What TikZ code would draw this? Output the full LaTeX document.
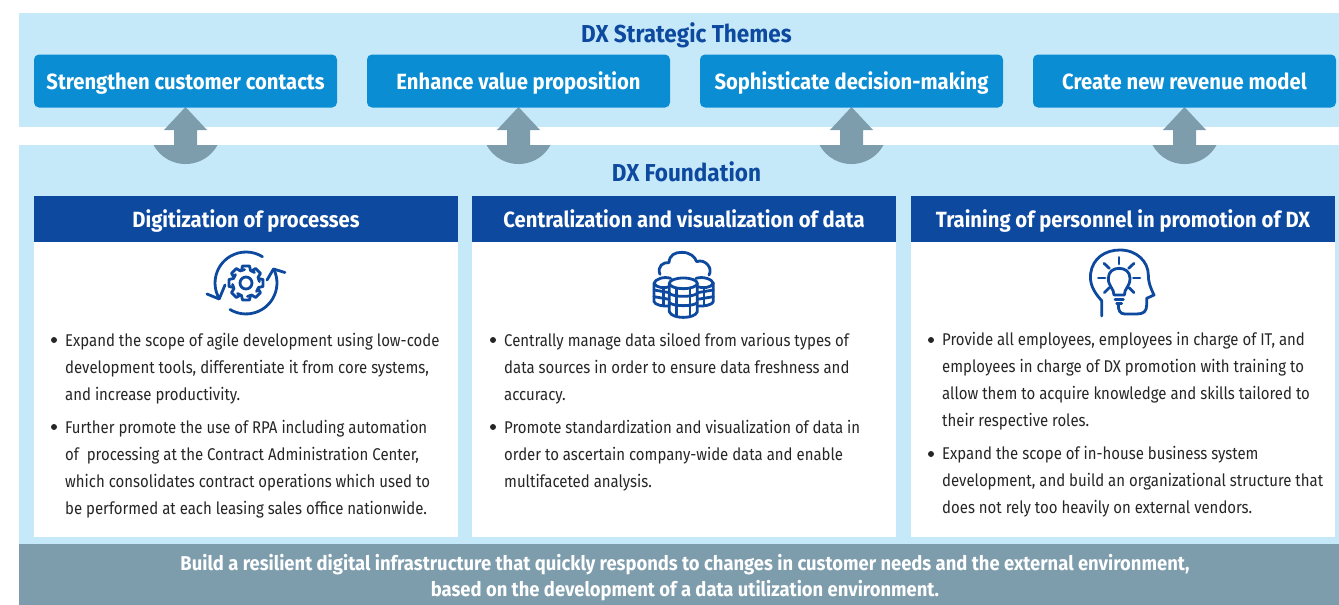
\documentclass[tikz,border=0pt]{standalone}
\usepackage{fontspec}
\setmainfont{Fira Sans}[FakeStretch=0.88,BoldFeatures={FakeStretch=0.92}]
\definecolor{bandblue}{HTML}{C6E9FA}
\definecolor{themeblue}{HTML}{0A8DD3}
\definecolor{headblue}{HTML}{0D4A9F}
\definecolor{slategrey}{HTML}{7D9CAC}
\usetikzlibrary{calc}
\tikzset{
  themebox/.style={fill=themeblue,rounded corners=5pt,minimum width=303pt,minimum height=53pt,inner sep=0pt,text height=18pt,text depth=2pt,text=white,font=\fontsize{22}{24}\selectfont\bfseries},
  headbox/.style={fill=headblue,minimum width=424pt,minimum height=46pt,inner sep=0pt,text height=18pt,text depth=2pt,text=white,font=\fontsize{22}{24}\selectfont\bfseries},
  bandtitle/.style={text=headblue,inner sep=0pt,text height=19pt,text depth=2pt,font=\fontsize{24.5}{26}\selectfont\bfseries},
  bodytext/.style={anchor=west,align=left,inner sep=0pt,text=black!85,font=\fontsize{17}{27}\selectfont},
  bulletmark/.style={circle,fill=black!85,minimum size=6pt,inner sep=0pt},
  iconline/.style={draw=headblue,line width=2.8pt,line cap=round,line join=round},
}
\begin{document}
\begin{tikzpicture}[x=1pt,y=-1pt]
    \useasboundingbox (0,0) rectangle (1339,605);

    % bands
    \fill [bandblue] (19,13) rectangle (1339,127);
    \fill [bandblue] (19,145) rectangle (1339,545);
    \fill [slategrey] (19,544) rectangle (1339,605);

    \node [bandtitle] (strategic) at (686.5,34) {DX Strategic Themes};
    \node [bandtitle] (foundation) at (686.5,173) {DX Foundation};

    \coordinate (T1) at (185.5,81);
    \coordinate (T2) at (518.5,81);
    \coordinate (T3) at (851.5,81);
    \coordinate (T4) at (1184.5,81);

    % arrows go under the boxes
    \foreach \y in {T1,T2,T3,T4}
    {
        \fill [slategrey, shift={(\y)}] (0,26) -- (21.5,49) -- (11.5,49) -- (11.5,64) -- (32,64)
            arc [start angle=28.5,end angle=151.5,radius=36.4] -- (-11.5,64) -- (-11.5,49) -- (-21.5,49) -- cycle;
    }

    \node [themebox] (theme1) at (T1) {Strengthen customer contacts};
    \node [themebox] (theme2) at (T2) {Enhance value proposition};
    \node [themebox] (theme3) at (T3) {Sophisticate decision-making};
    \node [themebox] (theme4) at (T4) {Create new revenue model};

    % panels
    \fill [white] (34,242) rectangle (458,537);
    \fill [white] (472,242) rectangle (896,537);
    \fill [white] (911,242) rectangle (1335,537);

    \node [headbox] (process) at (246,219) {Digitization of processes};
    \node [headbox] (data) at (684,219) {Centralization and visualization of data};
    \node [headbox] (people) at (1123,219) {Training of personnel in promotion of DX};

    % first panel
    \node [bodytext] (p1a) at (65,368.5) {Expand the scope of agile development using low-code\\development tools, differentiate it from core systems,\\and increase productivity.};
    \node [bodytext] (p1b) at (65,469) {Further promote the use of RPA including automation\\of \ processing at the Contract Administration Center,\\which consolidates contract operations which used to\\be performed at each leasing sales office nationwide.};
    \node [bulletmark] (b1a) at (54,340) {};
    \node [bulletmark] (b1b) at (54,427) {};

    % second panel
    \node [bodytext] (p2a) at (504,368.5) {Centrally manage data siloed from various types of\\data sources in order to ensure data freshness and\\accuracy.};
    \node [bodytext] (p2b) at (504,455.5) {Promote standardization and visualization of data in\\order to ascertain company-wide data and enable\\multifaceted analysis.};
    \node [bulletmark] (b2a) at (493,340) {};
    \node [bulletmark] (b2b) at (493,427) {};

    % third panel
    \node [bodytext] (p3a) at (942,381.5) {Provide all employees, employees in charge of IT, and\\employees in charge of DX promotion with training to\\allow them to acquire knowledge and skills tailored to\\their respective roles.};
    \node [bodytext] (p3b) at (942,482) {Expand the scope of in-house business system\\development, and build an organizational structure that\\does not rely too heavily on external vendors.};
    \node [bulletmark] (b3a) at (931,340) {};
    \node [bulletmark] (b3b) at (931,454) {};

    \node [align=center,inner sep=0pt,text=white,font=\fontsize{20}{26}\selectfont\bfseries] (resilient) at (685,578)
        {Build a resilient digital infrastructure that quickly responds to changes in customer needs and the external environment,\\based on the development of a data utilization environment.};

    % gear icon
    \begin{scope}[shift={(246,283)}]
        \draw [iconline] (-26.8,15.5) arc [start angle=150,end angle=302,radius=31];
        \draw [iconline] (-39,11) -- (-26.8,16) -- (-21,2);
        \draw [iconline] (-16,26.5) arc [start angle=121,end angle=-25,radius=31];
        \draw [iconline] (21,-3) -- (27.5,-14) -- (39,-10.5);
        \draw [iconline] (0,0) circle [radius=6];
        \foreach \a in {0,45,...,315}
            \draw [iconline, rotate=\a] (-4.5,-12.5) -- (-3.5,-17) -- (3.5,-17) -- (4.5,-12.5) -- (8.5,-10.5);
    \end{scope}

    % cloud and database icon
    \begin{scope}[shift={(630,240)},x=0.3333pt,y=-0.3333pt]
        \draw [iconline] (90,103) .. controls (80,80) and (100,65) .. (117,68)
            .. controls (118,45) and (135,37) .. (155,37) .. controls (180,37) and (195,50) .. (200,65)
            .. controls (225,55) and (250,85) .. (237,105);
        \draw [iconline] (122,115) .. controls (100,108) and (75,118) .. (72,130) -- (72,185) .. controls (75,195) and (100,200) .. (118,198);
        \draw [iconline] (72,130) .. controls (80,145) and (105,145) .. (118,140);
        \draw [iconline] (72,150) -- (118,158);
        \draw [iconline] (72,170) -- (118,178);
        \draw [iconline] (100,145) -- (100,195);
        \draw [iconline] (198,115) .. controls (220,108) and (247,118) .. (250,130) -- (250,185) .. controls (247,195) and (220,200) .. (202,198);
        \draw [iconline] (250,130) .. controls (242,145) and (217,145) .. (202,140);
        \draw [iconline] (250,150) -- (202,158);
        \draw [iconline] (250,170) -- (202,178);
        \draw [iconline] (222,145) -- (222,195);
        \draw [iconline] (160,130) ellipse [x radius=42,y radius=16];
        \draw [iconline] (118,130) -- (118,215) .. controls (125,238) and (195,238) .. (202,215) -- (202,130);
        \draw [iconline] (118,160) .. controls (130,172) and (190,172) .. (202,160);
        \draw [iconline] (118,188) .. controls (130,200) and (190,200) .. (202,188);
        \draw [iconline] (140,145) -- (140,226);
        \draw [iconline] (180,145) -- (180,226);
    \end{scope}

    % head with light bulb icon
    \begin{scope}[shift={(1070,240)},x=0.3333pt,y=-0.3333pt]
        \draw [iconline] (95,228) -- (95,182) .. controls (70,155) and (58,130) .. (62,100)
            .. controls (68,55) and (105,30) .. (150,30) .. controls (200,30) and (235,65) .. (235,105)
            .. controls (235,125) and (240,140) .. (252,165) -- (230,175) -- (230,195)
            .. controls (230,215) and (220,222) .. (200,222) -- (165,222) .. controls (150,222) and (145,212) .. (145,195);
        \draw [iconline] (132,165) .. controls (132,145) and (115,140) .. (115,115)
            .. controls (115,95) and (130,85) .. (147,85) .. controls (165,85) and (180,95) .. (180,115)
            .. controls (180,140) and (163,145) .. (163,165) -- cycle;
        \draw [iconline] (135,178) -- (160,178);
        \draw [iconline] (140,190) -- (155,190);
        \draw [iconline] (147,52) -- (147,72);
        \draw [iconline] (102,70) -- (118,85);
        \draw [iconline] (192,70) -- (176,85);
        \draw [iconline] (85,114) -- (105,114);
        \draw [iconline] (190,114) -- (210,114);
        \draw [iconline] (103,158) -- (118,143);
        \draw [iconline] (192,158) -- (177,143);
    \end{scope}
\end{tikzpicture}
\end{document}
